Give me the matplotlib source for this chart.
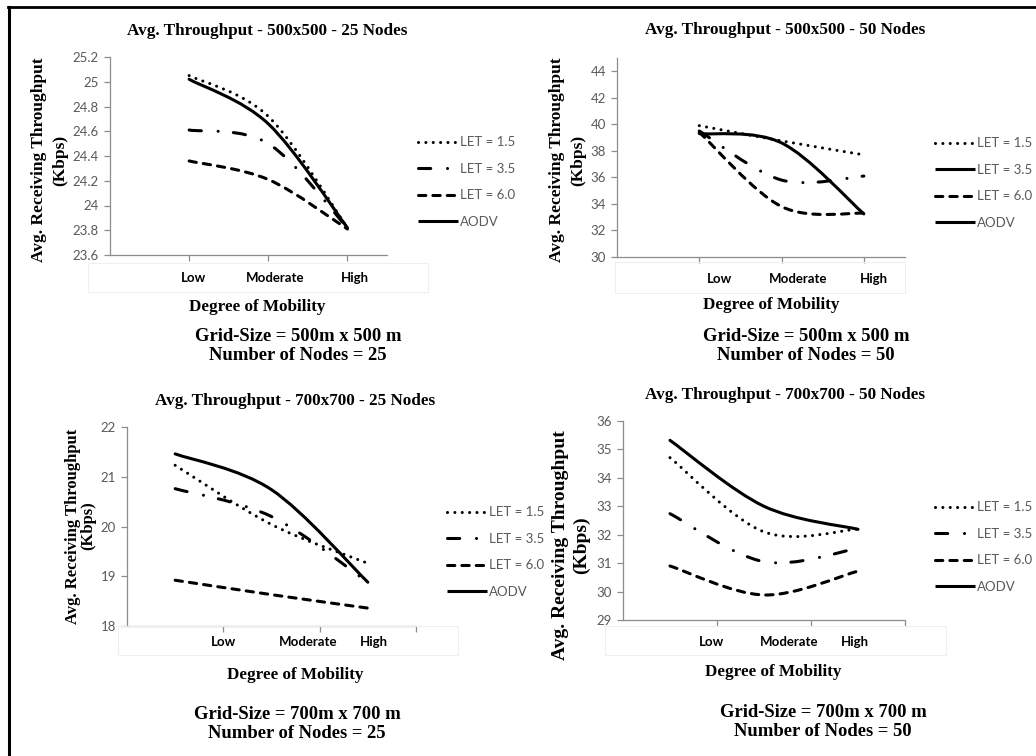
import matplotlib
matplotlib.use("Agg")
import matplotlib.pyplot as plt
import matplotlib.transforms as mtransforms
from matplotlib.lines import Line2D
from matplotlib.path import Path
from matplotlib.patches import PathPatch, Rectangle

W, H = 1036, 756

mobility = ["Low", "Moderate", "High"]
series_names = ["LET = 1.5", "LET = 3.5", "LET = 6.0", "AODV"]

# 500x500 - 25 nodes
let15_500_25 = [25.05, 24.72, 23.82]
let35_500_25 = [24.61, 24.50, 23.82]
let60_500_25 = [24.36, 24.21, 23.81]
aodv_500_25 = [25.02, 24.66, 23.82]

# 500x500 - 50 nodes
let15_500_50 = [39.9, 38.75, 37.7]
let35_500_50 = [39.5, 35.8, 36.1]
let60_500_50 = [39.4, 33.8, 33.3]
aodv_500_50 = [39.3, 38.6, 33.25]

# 700x700 - 25 nodes
let15_700_25 = [21.23, 20.04, 19.26]
let35_700_25 = [20.76, 20.20, 18.88]
let60_700_25 = [18.92, 18.63, 18.36]
aodv_700_25 = [21.46, 20.74, 18.88]

# 700x700 - 50 nodes
let15_700_50 = [34.71, 32.10, 32.20]
let35_700_50 = [32.74, 31.05, 31.52]
let60_700_50 = [30.90, 29.88, 30.72]
aodv_700_50 = [35.32, 33.00, 32.19]

LW = 2.2
styles = {
    "LET = 1.5": (0, (0.01, 2.4)),
    "LET = 3.5": (0, (4.0, 5.5, 0.01, 5.0)),
    "LET = 6.0": (0, (2.4, 2.3)),
    "AODV": "solid",
}

serif = "Liberation Serif"
sans = "Lato"
gray = "#595959"
axis_gray = "#8c8c8c"


def px(x, y):
    return x / W, 1 - y / H


def smooth_path(xs, ys):
    # Excel style smoothed line: cubic Bezier through the points
    pts = list(zip(xs, ys))
    ext = [pts[0]] + pts + [pts[-1]]
    verts = [pts[0]]
    codes = [Path.MOVETO]
    for i in range(1, len(ext) - 2):
        p0, p1, p2, p3 = ext[i - 1], ext[i], ext[i + 1], ext[i + 2]
        c1 = (p1[0] + (p2[0] - p0[0]) / 6, p1[1] + (p2[1] - p0[1]) / 6)
        c2 = (p2[0] - (p3[0] - p1[0]) / 6, p2[1] - (p3[1] - p1[1]) / 6)
        verts += [c1, c2, p2]
        codes += [Path.CURVE4] * 3
    return Path(verts, codes)


panels = [
    dict(series=[let15_500_25, let35_500_25, let60_500_25, aodv_500_25],
         title="Avg. Throughput - 500x500 - 25 Nodes", title_xy=(267, 31),
         rect=(110, 57, 387, 255), ylim=(23.6, 25.2),
         yticks=[23.6, 23.8, 24.0, 24.2, 24.4, 24.6, 24.8, 25.0, 25.2],
         ylabels=["23.6", "23.8", "24", "24.2", "24.4", "24.6", "24.8", "25", "25.2"],
         xlim=(0, 3.5), xticks=[1, 2, 3], xpos=[1, 2, 3],
         label_x=[1.06, 2.09, 3.09], label_y=278,
         ylab_xy=(50, 160), ylab_size=12.5, ylab_sp=1.45,
         xlab_xy=(257, 307), note_xy=(298, 346),
         leg_xy=(418, 182), solid_35=False,
         box=(88, 263, 428, 292)),
    dict(series=[let15_500_50, let35_500_50, let60_500_50, aodv_500_50],
         title="Avg. Throughput - 500x500 - 50 Nodes", title_xy=(785, 30),
         rect=(617, 58, 905, 257), ylim=(30, 45),
         yticks=[30, 32, 34, 36, 38, 40, 42, 44],
         ylabels=["30", "32", "34", "36", "38", "40", "42", "44"],
         xlim=(0, 3.5), xticks=[1, 2, 3], xpos=[1, 2, 3],
         label_x=[1.25, 2.2, 3.12], label_y=279,
         ylab_xy=(568, 160), ylab_size=12.5, ylab_sp=1.45,
         xlab_xy=(771, 305), note_xy=(806, 346),
         leg_xy=(935, 183), solid_35=True,
         box=(615, 262, 905, 293)),
    dict(series=[let15_700_25, let35_700_25, let60_700_25, aodv_700_25],
         title="Avg. Throughput - 700x700 - 25 Nodes", title_xy=(295, 401),
         rect=(127, 427, 416, 626), ylim=(18, 22),
         yticks=[18, 19, 20, 21, 22],
         ylabels=["18", "19", "20", "21", "22"],
         xlim=(0, 3), xticks=[1, 2, 3], xpos=[0.5, 1.5, 2.5],
         label_x=[1.0, 1.88, 2.56], label_y=642,
         ylab_xy=(81, 526), ylab_size=12, ylab_sp=0.95,
         xlab_xy=(295, 675), note_xy=(297, 724),
         leg_xy=(447, 552), solid_35=False,
         box=(118, 626, 458, 655)),
    dict(series=[let15_700_50, let35_700_50, let60_700_50, aodv_700_50],
         title="Avg. Throughput - 700x700 - 50 Nodes", title_xy=(785, 395),
         rect=(623, 421, 905, 620), ylim=(29, 36),
         yticks=[29, 30, 31, 32, 33, 34, 35, 36],
         ylabels=["29", "30", "31", "32", "33", "34", "35", "36"],
         xlim=(0, 3), xticks=[1, 2, 3], xpos=[0.5, 1.5, 2.5],
         label_x=[0.94, 1.77, 2.47], label_y=642,
         ylab_xy=(571, 545), ylab_size=14, ylab_sp=1.3,
         xlab_xy=(773, 672), note_xy=(823, 722),
         leg_xy=(935, 547), solid_35=False,
         box=(605, 626, 946, 655)),
]

fig = plt.figure(figsize=(W / 100, H / 100), dpi=100)
fig.patch.set_facecolor("white")

# frame lines of the pasted picture
fig.add_artist(Line2D([8 / W, 1.0], [1 - 7 / H] * 2, color="black", lw=2.0))
fig.add_artist(Line2D([9 / W] * 2, [1 - 7 / H, 0.0], color="black", lw=2.2))

for p in panels:
    x0, y0, x1, y1 = p["rect"]
    ax = fig.add_axes([x0 / W, 1 - y1 / H, (x1 - x0) / W, (y1 - y0) / H])
    ax.set_xlim(*p["xlim"])
    ax.set_ylim(*p["ylim"])
    for s in ["top", "right"]:
        ax.spines[s].set_visible(False)
    for s in ["left", "bottom"]:
        ax.spines[s].set_color(axis_gray)
        ax.spines[s].set_linewidth(0.9)
    ax.set_xticks(p["xticks"])
    ax.set_xticklabels([])
    ax.set_yticks(p["yticks"])
    ax.set_yticklabels(p["ylabels"], fontfamily=sans, fontsize=9.5, color=gray)
    ax.tick_params(axis="both", direction="out", length=4, width=0.9, color=axis_gray)
    ax.tick_params(axis="y", pad=4)

    for name, vals in zip(series_names, p["series"]):
        patch = PathPatch(smooth_path(p["xpos"], vals), fill=False, edgecolor="black",
                          lw=LW, linestyle=styles[name], capstyle="round", joinstyle="round")
        ax.add_patch(patch)

    trans = mtransforms.blended_transform_factory(ax.transData, fig.transFigure)
    for lx, lab in zip(p["label_x"], mobility):
        ax.text(lx, 1 - p["label_y"] / H, lab, transform=trans, ha="center", va="center",
                fontfamily=sans, fontweight="bold", fontsize=9.5, color="black")

    bx0, by0, bx1, by1 = p["box"]
    fig.add_artist(Rectangle((bx0 / W, 1 - by1 / H), (bx1 - bx0) / W, (by1 - by0) / H,
                             transform=fig.transFigure, fill=False, edgecolor="#efefef", lw=0.8))

    fig.text(*px(*p["title_xy"]), p["title"], ha="center", va="center",
             fontfamily=serif, fontweight="bold", fontsize=12.3)
    fig.text(*px(*p["ylab_xy"]), "Avg. Receiving Throughput\n(Kbps)", ha="center", va="center",
             rotation=90, fontfamily=serif, fontweight="bold", fontsize=p["ylab_size"],
             linespacing=p["ylab_sp"], multialignment="center")
    fig.text(*px(*p["xlab_xy"]), "Degree of Mobility", ha="center", va="center",
             fontfamily=serif, fontweight="bold", fontsize=12.3)
    nodes = p["title"].split(" - ")[2].split()[0]
    grid = p["title"].split(" - ")[1].split("x")[0]
    fig.text(*px(*p["note_xy"]), f"Grid-Size = {grid}m x {grid} m\nNumber of Nodes = {nodes}",
             ha="center", va="center", fontfamily=serif, fontweight="bold", fontsize=13.4,
             linespacing=1.15)

    handles = []
    for name in series_names:
        ls = styles[name]
        if name == "LET = 3.5" and p["solid_35"]:
            ls = "solid"
        handles.append(Line2D([], [], color="black", lw=LW, linestyle=ls,
                              dash_capstyle="round", solid_capstyle="butt"))
    fig.legend(handles, series_names, loc="center left",
               bbox_to_anchor=px(*p["leg_xy"]), frameon=False,
               prop={"family": sans, "size": 9.5}, labelcolor=gray,
               handlelength=3.0, handletextpad=0.15, labelspacing=1.1,
               borderpad=0, borderaxespad=0)

fig.savefig("out.png", dpi=100, facecolor="white")
